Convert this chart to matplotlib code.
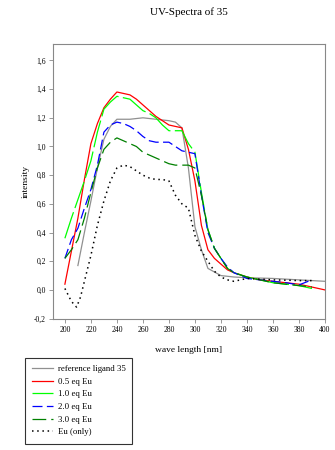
import numpy as np
import matplotlib
matplotlib.use("Agg")
import matplotlib.pyplot as plt
from matplotlib.ticker import FuncFormatter, MultipleLocator

plt.rcParams['font.family'] = ['Liberation Serif', 'DejaVu Serif']

# wavelengths [nm] and intensities
wl_ref = [210, 215, 220, 225, 230, 235, 240, 250, 260, 270, 280, 285, 290,
          295, 300, 305, 310, 320, 330, 340, 360, 380, 400]
ref_ligand = [0.17, 0.40, 0.62, 0.85, 1.05, 1.14, 1.19, 1.19, 1.20, 1.19, 1.18,
              1.17, 1.13, 0.85, 0.44, 0.28, 0.15, 0.10, 0.09, 0.085, 0.08, 0.07, 0.06]

wl_05 = [200, 205, 210, 215, 220, 225, 230, 235, 240, 245, 250, 255, 260, 265,
         270, 275, 280, 285, 290, 295, 300, 305, 310, 315, 320, 325, 330, 340,
         350, 360, 370, 380, 390, 400]
eq_05 = [0.04, 0.27, 0.50, 0.77, 1.02, 1.16, 1.27, 1.33, 1.38, 1.37, 1.36, 1.33,
         1.29, 1.25, 1.21, 1.18, 1.15, 1.14, 1.13, 0.98, 0.76, 0.45, 0.28, 0.22,
         0.18, 0.14, 0.12, 0.09, 0.07, 0.06, 0.05, 0.04, 0.02, 0.00]

wl_10 = [200, 205, 210, 215, 220, 225, 230, 235, 240, 245, 250, 255, 260, 265,
         270, 275, 280, 285, 290, 295, 300, 305, 310, 315, 320, 325, 330, 340,
         350, 360, 370, 380, 390]
eq_10 = [0.36, 0.50, 0.63, 0.76, 0.90, 1.10, 1.26, 1.31, 1.35, 1.34, 1.33, 1.29,
         1.25, 1.23, 1.20, 1.15, 1.11, 1.11, 1.11, 1.02, 0.96, 0.68, 0.42, 0.29,
         0.22, 0.15, 0.12, 0.09, 0.07, 0.05, 0.04, 0.03, 0.01]

wl_20 = [200, 205, 210, 215, 220, 225, 230, 235, 240, 245, 250, 255, 260, 265,
         270, 275, 280, 285, 290, 295, 300, 305, 310, 315, 320, 325, 330, 340,
         350, 360, 370, 380, 390]
eq_20 = [0.22, 0.35, 0.43, 0.57, 0.70, 0.87, 1.10, 1.15, 1.17, 1.16, 1.14, 1.11,
         1.07, 1.04, 1.03, 1.03, 1.03, 1.00, 0.97, 0.96, 0.95, 0.66, 0.40, 0.29,
         0.22, 0.16, 0.12, 0.08, 0.07, 0.06, 0.05, 0.035, 0.07]

wl_30 = [200, 205, 210, 215, 220, 225, 230, 235, 240, 245, 250, 255, 260, 265,
         270, 275, 280, 285, 290, 295, 300, 305, 310, 315, 320, 325, 330, 340,
         350, 360, 370, 380, 390]
eq_30 = [0.22, 0.28, 0.35, 0.50, 0.68, 0.85, 0.98, 1.03, 1.06, 1.04, 1.02, 1.00,
         0.96, 0.94, 0.92, 0.90, 0.88, 0.87, 0.87, 0.87, 0.85, 0.66, 0.42, 0.29,
         0.22, 0.15, 0.12, 0.09, 0.07, 0.05, 0.04, 0.03, 0.02]

wl_eu = [200, 205, 209, 212, 215, 220, 225, 230, 235, 240, 245, 250, 255, 260,
         265, 270, 275, 280, 285, 290, 295, 300, 305, 310, 315, 320, 325, 330,
         340, 350, 360, 370, 380, 390]
eu_only = [0.01, -0.08, -0.12, -0.05, 0.06, 0.24, 0.45, 0.62, 0.76, 0.85, 0.87,
           0.86, 0.83, 0.80, 0.78, 0.77, 0.77, 0.76, 0.66, 0.60, 0.57, 0.38, 0.27,
           0.20, 0.13, 0.09, 0.07, 0.06, 0.08, 0.075, 0.07, 0.068, 0.065, 0.065]

title = "UV-Spectra of 35"
labels = ["reference ligand 35", "0.5 eq Eu", "1.0 eq Eu", "2.0 eq Eu",
          "3.0 eq Eu", "Eu (only)"]

fig = plt.figure(figsize=(3.35, 4.5), dpi=100)
ax = fig.add_axes([0.158, 0.292, 0.812, 0.610])

lw = 0.9
ax.plot(wl_ref, ref_ligand, color="#909090", lw=lw, label=labels[0])
ax.plot(wl_05, eq_05, color="#ff0000", lw=lw, label=labels[1])
ax.plot(wl_10, eq_10, color="#00ff00", lw=lw, dashes=(22, 3.5), label=labels[2])
ax.plot(wl_20, eq_20, color="#0000ff", lw=lw, dashes=(8, 3.5), label=labels[3])
ax.plot(wl_30, eq_30, color="#008000", lw=lw, dashes=(11, 4), label=labels[4])
ax.plot(wl_eu, eu_only, color="black", lw=1.1, dashes=(1, 2.4), label=labels[5])

ax.set_xlim(190.8, 400)
ax.set_ylim(-0.2, 1.714)
ax.xaxis.set_major_locator(MultipleLocator(20))
ax.yaxis.set_major_locator(MultipleLocator(0.2))
ax.yaxis.set_major_formatter(FuncFormatter(lambda v, p: f"{v:.1f}".replace(".", ",").replace("-0,0", "0,0")))

for s in ax.spines.values():
    s.set_color("#888888")
    s.set_linewidth(0.8)
ax.tick_params(direction="out", length=3, width=0.6, color="#888888",
               labelsize=5.5, pad=2)

ax.set_title(title, fontsize=8, pad=21)
ax.set_xlabel("wave length [nm]", fontsize=6.8, labelpad=9)
ax.set_ylabel("intensity", fontsize=6.8, labelpad=3)

leg = fig.legend(loc="upper left", bbox_to_anchor=(0.075, 1 - 358 / 450),
                 fontsize=6.3, frameon=True, fancybox=False, handlelength=2.4,
                 handletextpad=0.5, labelspacing=0.52, borderpad=0.8,
                 borderaxespad=0)
leg.get_frame().set_edgecolor("black")
leg.get_frame().set_linewidth(0.8)

fig.savefig("out.png", dpi=100)
